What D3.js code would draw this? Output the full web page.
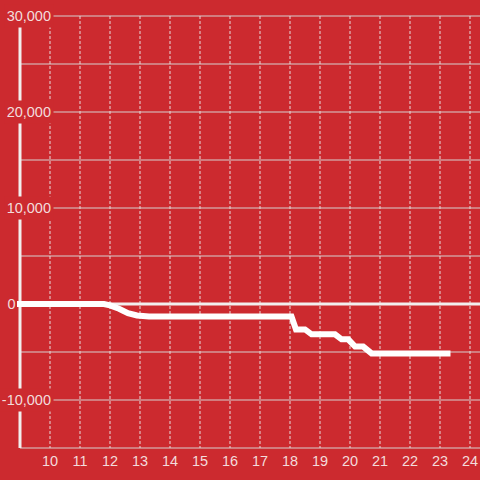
<!DOCTYPE html>
<html><head><meta charset="utf-8">
<script src="https://cdn.jsdelivr.net/npm/d3@7"></script>
<style>html,body{margin:0;padding:0;background:#cc2a2f;}svg{display:block;}</style>
</head><body>
<script>
const hours = [9, 11.8, 12.0, 12.3, 12.6, 12.9, 13.3, 18.05, 18.2, 18.5, 18.72, 19.5, 19.72, 19.94, 20.17, 20.44, 20.72, 23.25];
const values = [0, 0, -150, -500, -950, -1200, -1300, -1300, -2650, -2650, -3160, -3160, -3680, -3680, -4440, -4440, -5150, -5150];
const xTicks = [10, 11, 12, 13, 14, 15, 16, 17, 18, 19, 20, 21, 22, 23, 24];
const yGrid = [-15000, -10000, -5000, 5000, 10000, 15000, 20000, 25000, 30000];
const yLabels = [30000, 20000, 10000, 0, -10000];

const W = 480, H = 480;
const BG = "#cc2a2f";
const svg = d3.select("body").append("svg").attr("width", W).attr("height", H);
svg.append("rect").attr("width", W).attr("height", H).attr("fill", BG);

const x = d3.scaleLinear().domain([9, 24]).range([20, 470]);
const y = d3.scaleLinear().domain([-15000, 30000]).range([448, 16]);
const FONT = "'Liberation Sans', Arial, sans-serif";

// horizontal gridlines
svg.append("g").selectAll("line").data(yGrid).join("line")
  .attr("x1", 20).attr("x2", W).attr("y1", d => y(d)).attr("y2", d => y(d))
  .attr("stroke", "#d6d0d0").attr("stroke-width", 1);

// vertical dashed gridlines
svg.append("g").selectAll("line").data(xTicks).join("line")
  .attr("x1", d => x(d)).attr("x2", d => x(d)).attr("y1", y(30000)).attr("y2", y(-15000))
  .attr("stroke", "#e6dcdc").attr("stroke-width", 1).attr("stroke-dasharray", "3,2");

// zero line
svg.append("line").attr("x1", 20).attr("x2", W).attr("y1", y(0)).attr("y2", y(0))
  .attr("stroke", "#f2eeee").attr("stroke-width", 3);

// y axis line
svg.append("line").attr("x1", 20).attr("x2", 20).attr("y1", y(30000)).attr("y2", y(-15000))
  .attr("stroke", "#f2eeee").attr("stroke-width", 3);

// y labels with background
const fmt = d3.format(",");
const yl = svg.append("g").selectAll("g").data(yLabels).join("g")
  .attr("transform", d => `translate(${d === 0 ? 15.5 : 51},${y(d)})`);
yl.append("text").text(d => fmt(d).replace("−", "-"))
  .attr("text-anchor", "end").attr("dy", "0.35em")
  .attr("font-family", FONT).attr("font-size", 14.5)
  .attr("fill", "#f3dcdc")
  .each(function(d) {
    if (d === 0) return;
    const b = this.getBBox();
    d3.select(this.parentNode).insert("rect", "text")
      .attr("x", b.x - 2).attr("y", -11.5).attr("width", b.width + 4.5).attr("height", 23)
      .attr("fill", BG);
  });

// x labels
svg.append("g").selectAll("text").data(xTicks).join("text")
  .attr("x", d => x(d)).attr("y", 461).attr("dy", "0.35em")
  .attr("text-anchor", "middle")
  .attr("font-family", FONT).attr("font-size", 14.5)
  .attr("fill", "#f3dcdc").text(d => d);

// series
const line = d3.line().x((d, i) => x(hours[i])).y(d => y(d));
svg.append("path").datum(values).attr("d", line)
  .attr("fill", "none").attr("stroke", "#ffffff").attr("stroke-width", 6)
  .attr("stroke-linecap", "square").attr("stroke-linejoin", "miter");
</script>
</body></html>
